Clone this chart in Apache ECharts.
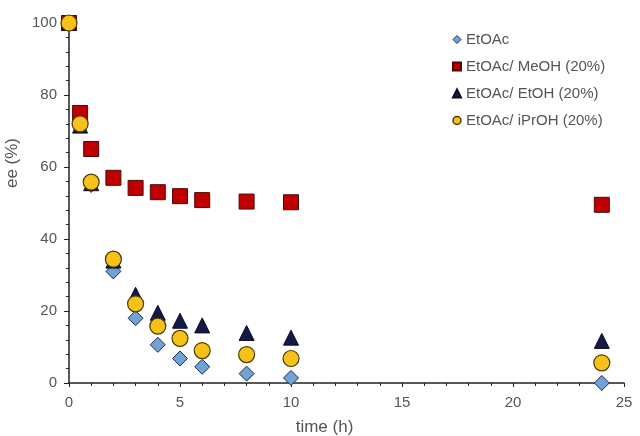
<!DOCTYPE html>
<html>
<head>
<meta charset="utf-8">
<script src="https://cdn.jsdelivr.net/npm/echarts@6/dist/echarts.min.js"></script>
<style>
    html, body { margin: 0; padding: 0; background: #fff; }
    #chart { width: 640px; height: 436px; }
</style>
</head>
<body>
<div id="chart"></div>
<script>
// sampling times (h)
var times = [0, 0.5, 1, 2, 3, 4, 5, 6, 8, 10, 24];

// ee (%) per solvent
var etoac = [100, 72, 55, 31, 18, 10.6, 6.8, 4.5, 2.6, 1.4, 0];
var meoh = [100, 75, 65, 57, 54.2, 53, 51.9, 50.8, 50.4, 50.2, 49.5];
var etoh = [100, 71.5, 55.5, 34, 24.5, 19.5, 17.3, 16, 13.9, 12.6, 11.7];
var iproh = [100, 72, 55.8, 34.4, 22, 15.8, 12.4, 9, 7.9, 6.8, 5.6];

var names = ["EtOAc", "EtOAc/ MeOH (20%)", "EtOAc/ EtOH (20%)", "EtOAc/ iPrOH (20%)"];

function pairs(ys) {
    var out = [];
    for (var i = 0; i < times.length; i++) {
        out.push([times[i], ys[i]]);
    }
    return out;
}

var chart = echarts.init(document.getElementById('chart'));

var option = {
    animation: false,
    textStyle: { fontFamily: "Liberation Sans, Arial, sans-serif" },
    grid: { left: 69, right: 16, top: 23, bottom: 53, outerBoundsMode: 'none', containLabel: false },
    legend: {
        orient: 'vertical',
        left: 447,
        top: 27,
        itemWidth: 8,
        itemHeight: 8,
        itemGap: 12,
        textStyle: { fontSize: 15, color: '#555' },
        data: [
            { name: names[0], icon: 'diamond', itemStyle: { color: '#6fa3d6', borderColor: '#1d2a4a', borderWidth: 1 } },
            { name: names[1], icon: 'rect' },
            { name: names[2], icon: 'triangle' },
            { name: names[3], icon: 'circle', itemStyle: { color: '#f6c21a', borderColor: '#4a3a05', borderWidth: 1.5 } }
        ]
    },
    xAxis: {
        type: 'value',
        min: 0,
        max: 25,
        interval: 5,
        name: 'time (h)',
        nameLocation: 'middle',
        nameGap: 36,
        nameTextStyle: { fontSize: 17, color: '#555', padding: [0, 44, 0, 0] },
        axisLine: { lineStyle: { color: '#222', width: 1.5 } },
        axisTick: { length: 4, lineStyle: { color: '#222' } },
        minorTick: { show: true, splitNumber: 5, length: 3, lineStyle: { color: '#222' } },
        axisLabel: { fontSize: 15, color: '#555', margin: 12 },
        splitLine: { show: false }
    },
    yAxis: {
        type: 'value',
        min: 0,
        max: 100,
        interval: 20,
        name: 'ee (%)',
        nameLocation: 'middle',
        nameGap: 30,
        nameRotate: 90,
        nameTextStyle: { fontSize: 17, color: '#555', padding: [0, 0, 0, 80] },
        axisLine: { show: true, lineStyle: { color: '#222', width: 1.5 } },
        axisTick: { show: true, length: 5, lineStyle: { color: '#222' } },
        minorTick: { show: true, splitNumber: 5, length: 3, lineStyle: { color: '#222' } },
        axisLabel: { fontSize: 15, color: '#555', margin: 12 },
        splitLine: { show: false }
    },
    series: [
        {
            name: names[0], type: 'scatter', symbol: 'diamond', symbolSize: 15,
            itemStyle: { color: '#6fa3d6', borderColor: '#1d2a4a', borderWidth: 1, opacity: 1 },
            data: pairs(etoac)
        },
        {
            name: names[1], type: 'scatter', symbol: 'rect', symbolSize: 15,
            itemStyle: { color: '#c00000', borderColor: '#4a0a0a', borderWidth: 1, opacity: 1 },
            data: pairs(meoh)
        },
        {
            name: names[2], type: 'scatter', symbol: 'triangle', symbolSize: 15,
            itemStyle: { color: '#15194a', borderColor: '#0a0c25', borderWidth: 1, opacity: 1 },
            data: pairs(etoh)
        },
        {
            name: names[3], type: 'scatter', symbol: 'circle', symbolSize: 16,
            itemStyle: { color: '#f6c21a', borderColor: '#4a3a05', borderWidth: 1.2, opacity: 1 },
            data: pairs(iproh)
        }
    ]
};

chart.setOption(option);
</script>
</body>
</html>
